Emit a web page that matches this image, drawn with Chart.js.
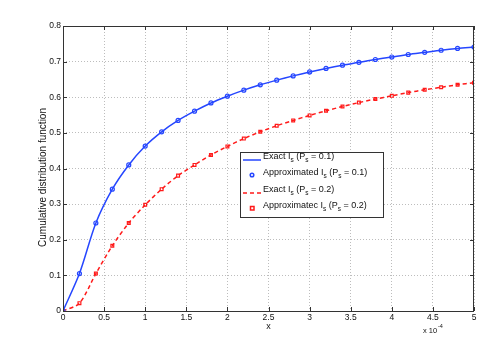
<!DOCTYPE html>
<html>
<head>
<meta charset="utf-8">
<script src="https://cdn.jsdelivr.net/npm/chart.js@4"></script>
<style>
  html, body { margin: 0; padding: 0; background: #fff; }
  #wrap { width: 491px; height: 350px; }
</style>
</head>
<body>
<div id="wrap"><canvas id="cdfChart" width="491" height="350"></canvas></div>
<script>
// x in units of 1e-4
const xValues = [0, 0.2, 0.4, 0.6, 0.8, 1.0, 1.2, 1.4, 1.6, 1.8, 2.0, 2.2, 2.4, 2.6, 2.8, 3.0, 3.2, 3.4, 3.6, 3.8, 4.0, 4.2, 4.4, 4.6, 4.8, 5.0];
const cdfP01 = [0, 0.105, 0.247, 0.342, 0.41, 0.463, 0.503, 0.535, 0.561, 0.584, 0.603, 0.62, 0.635, 0.648, 0.66, 0.671, 0.681, 0.69, 0.698, 0.706, 0.713, 0.72, 0.726, 0.732, 0.737, 0.741];
const cdfP02 = [0, 0.022, 0.105, 0.183, 0.247, 0.298, 0.342, 0.38, 0.41, 0.438, 0.462, 0.484, 0.503, 0.52, 0.535, 0.549, 0.562, 0.574, 0.585, 0.595, 0.604, 0.613, 0.621, 0.628, 0.635, 0.641];
const xTicks = [0, 0.5, 1, 1.5, 2, 2.5, 3, 3.5, 4, 4.5, 5];
const yTicks = [0, 0.1, 0.2, 0.3, 0.4, 0.5, 0.6, 0.7, 0.8];

const BLUE = "#2546ff";
const RED = "#ff1a1a";
const FONT = "Liberation Sans, Arial, sans-serif";

function toPoints(ys) {
    return xValues.map((x, i) => ({ x: x, y: ys[i] }));
}

// label text with subscript s: parts like ["Exact I", "s", " (P", "s", " = 0.1)"]
function drawSubText(ctx, x, y, parts) {
    let cx = x;
    parts.forEach((p, i) => {
        const sub = i % 2 === 1;
        ctx.font = (sub ? "6.5px " : "9px ") + FONT;
        ctx.fillText(p, cx, sub ? y + 3 : y);
        cx += ctx.measureText(p).width;
    });
}

const extrasPlugin = {
    id: "extras",
    afterDraw(chart) {
        const ctx = chart.ctx;
        const a = chart.chartArea;
        const xs = chart.scales.x, ys = chart.scales.y;
        ctx.save();
        // axes box
        ctx.strokeStyle = "#333";
        ctx.lineWidth = 1;
        ctx.strokeRect(a.left + 0.5, a.top + 0.5, a.right - a.left - 1, a.bottom - a.top);

        // inward tick marks on all sides
        ctx.beginPath();
        xTicks.forEach(v => {
            const px = Math.round(xs.getPixelForValue(v)) + 0.5;
            ctx.moveTo(px, a.bottom); ctx.lineTo(px, a.bottom - 4);
            ctx.moveTo(px, a.top); ctx.lineTo(px, a.top + 4);
        });
        yTicks.forEach(v => {
            const py = Math.round(ys.getPixelForValue(v)) + 0.5;
            ctx.moveTo(a.left, py); ctx.lineTo(a.left + 4, py);
            ctx.moveTo(a.right, py); ctx.lineTo(a.right - 4, py);
        });
        ctx.stroke();

        // axis titles
        ctx.fillStyle = "#111";
        ctx.font = "9px " + FONT;
        ctx.textAlign = "center";
        ctx.textBaseline = "middle";
        ctx.fillText("x", (a.left + a.right) / 2, 327);
        ctx.font = "10px " + FONT;
        ctx.save();
        ctx.translate(43, (a.top + a.bottom) / 2 + 9);
        ctx.rotate(-Math.PI / 2);
        ctx.fillText("Cumulative distribution function", 0, 0);
        ctx.restore();

        // x 10^-4
        ctx.textAlign = "left";
        ctx.font = "7.5px " + FONT;
        ctx.fillText("x 10", 423, 331);
        ctx.font = "5.5px " + FONT;
        ctx.fillText("-4", 438, 326);

        // legend
        const lx = 240, ly = 152, lw = 143, lh = 65;
        ctx.fillStyle = "#fff";
        ctx.fillRect(lx, ly, lw, lh);
        ctx.strokeStyle = "#333";
        ctx.strokeRect(lx + 0.5, ly + 0.5, lw, lh);
        const rows = [
            { y: 157, kind: "line", color: BLUE, dash: [], parts: ["Exact I", "s", " (P", "s", " = 0.1)"] },
            { y: 173, kind: "circle", color: BLUE, parts: ["Approximated I", "s", " (P", "s", " = 0.1)"] },
            { y: 190, kind: "line", color: RED, dash: [4, 3], parts: ["Exact I", "s", " (P", "s", " = 0.2)"] },
            { y: 206, kind: "rect", color: RED, parts: ["Approximatec I", "s", " (P", "s", " = 0.2)"] }
        ];
        rows.forEach(r => {
            ctx.strokeStyle = r.color;
            ctx.lineWidth = 1.5;
            if (r.kind === "line") {
                ctx.setLineDash(r.dash);
                ctx.beginPath();
                ctx.moveTo(243, r.y + 3);
                ctx.lineTo(261, r.y + 3);
                ctx.stroke();
                ctx.setLineDash([]);
            } else if (r.kind === "circle") {
                ctx.beginPath();
                ctx.arc(252, r.y + 2, 1.8, 0, Math.PI * 2);
                ctx.stroke();
            } else {
                ctx.strokeRect(250.5, r.y + 0.5, 3.5, 3.5);
            }
            ctx.fillStyle = "#111";
            ctx.textBaseline = "middle";
            drawSubText(ctx, 263, r.y, r.parts);
        });
        ctx.restore();
    }
};

new Chart(document.getElementById("cdfChart").getContext("2d"), {
    type: "line",
    data: {
        datasets: [
            {
                label: "Exact P=0.1",
                data: toPoints(cdfP01),
                borderColor: BLUE,
                borderWidth: 1.5,
                pointRadius: 0,
                tension: 0.3,
                fill: false
            },
            {
                label: "Approx P=0.1",
                data: toPoints(cdfP01),
                showLine: false,
                pointStyle: "circle",
                pointRadius: 2,
                pointBorderWidth: 1.2,
                pointBorderColor: BLUE,
                pointBackgroundColor: "rgba(255,255,255,0)"
            },
            {
                label: "Exact P=0.2",
                data: toPoints(cdfP02),
                borderColor: RED,
                borderWidth: 1.5,
                borderDash: [4, 3],
                pointRadius: 0,
                tension: 0.3,
                fill: false
            },
            {
                label: "Approx P=0.2",
                data: toPoints(cdfP02),
                showLine: false,
                pointStyle: "rect",
                pointRadius: 2,
                pointBorderWidth: 1.2,
                pointBorderColor: RED,
                pointBackgroundColor: "rgba(255,255,255,0)"
            }
        ]
    },
    options: {
        responsive: false,
        animation: false,
        layout: { padding: { left: 0, top: 26, right: 17, bottom: 0 } },
        plugins: { legend: { display: false }, tooltip: { enabled: false } },
        scales: {
            x: {
                type: "linear",
                min: 0,
                max: 5,
                afterFit: s => { s.height = 39; },
                afterBuildTicks: s => { s.ticks = xTicks.map(v => ({ value: v })); },
                grid: { color: "#bdbdbd", drawTicks: false },
                border: { display: false, dash: [1, 2] },
                ticks: {
                    color: "#111",
                    font: { size: 8.5, family: FONT },
                    padding: 2,
                    maxRotation: 0,
                    callback: v => String(v)
                }
            },
            y: {
                min: 0,
                max: 0.8,
                afterFit: s => { s.width = 63; },
                afterBuildTicks: s => { s.ticks = yTicks.map(v => ({ value: v })); },
                grid: { color: "#bdbdbd", drawTicks: false },
                border: { display: false, dash: [1, 2] },
                ticks: {
                    color: "#111",
                    font: { size: 8.5, family: FONT },
                    padding: 2,
                    callback: v => String(Math.round(v * 10) / 10)
                }
            }
        }
    },
    plugins: [extrasPlugin]
});
</script>
</body>
</html>
